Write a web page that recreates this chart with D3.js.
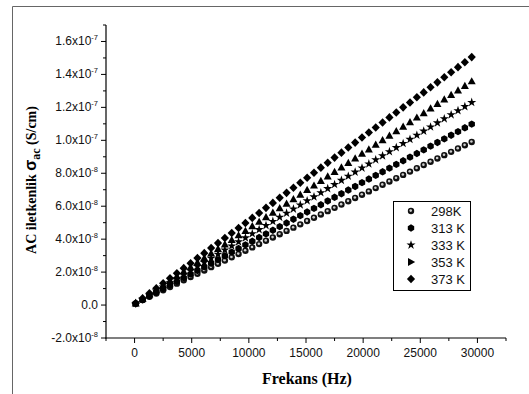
<!DOCTYPE html>
<html><head><meta charset="utf-8">
<script src="https://cdn.jsdelivr.net/npm/d3@7"></script>
<style>body{margin:0;background:#fff}svg{display:block}</style>
</head><body>
<script>
const freq = [100,700,1300,1900,2500,3100,3700,4300,4900,5500,6100,6700,7300,7900,8500,9100,9700,10300,10900,11500,12100,12700,13300,13900,14500,15100,15700,16300,16900,17500,18100,18700,19300,19900,20500,21100,21700,22300,22900,23500,24100,24700,25300,25900,26500,27100,27700,28300,28900,29500];
// values in units of 1e-8 S/cm
const UNIT = 1e-8;
const s298 = [0.10,0.30,0.50,0.70,0.90,1.10,1.30,1.50,1.70,1.90,2.10,2.30,2.50,2.70,2.90,3.10,3.30,3.50,3.70,3.90,4.10,4.30,4.50,4.70,4.90,5.10,5.30,5.50,5.70,5.90,6.10,6.30,6.50,6.70,6.90,7.10,7.30,7.50,7.70,7.90,8.10,8.30,8.50,8.70,8.90,9.10,9.30,9.50,9.70,9.90];
const s313 = [0.10,0.32,0.54,0.77,0.99,1.21,1.43,1.65,1.88,2.10,2.32,2.54,2.76,2.99,3.21,3.43,3.65,3.87,4.10,4.32,4.54,4.76,4.98,5.21,5.43,5.65,5.87,6.09,6.32,6.54,6.76,6.98,7.20,7.43,7.65,7.87,8.09,8.31,8.54,8.76,8.98,9.20,9.42,9.65,9.87,10.09,10.31,10.53,10.76,10.98];
const s333 = [0.10,0.35,0.60,0.85,1.10,1.35,1.59,1.84,2.09,2.34,2.59,2.84,3.09,3.34,3.59,3.84,4.08,4.33,4.58,4.83,5.08,5.33,5.58,5.83,6.08,6.33,6.57,6.82,7.07,7.32,7.57,7.82,8.07,8.32,8.57,8.82,9.06,9.31,9.56,9.81,10.06,10.31,10.56,10.81,11.06,11.31,11.55,11.80,12.05,12.30];
const s353 = [0.10,0.38,0.65,0.93,1.20,1.48,1.75,2.03,2.30,2.58,2.85,3.13,3.40,3.68,3.95,4.23,4.50,4.78,5.05,5.33,5.60,5.88,6.15,6.43,6.70,6.98,7.25,7.53,7.80,8.08,8.35,8.63,8.90,9.18,9.45,9.73,10.00,10.28,10.55,10.83,11.10,11.38,11.65,11.93,12.20,12.48,12.75,13.03,13.30,13.58];
const s373 = [0.10,0.41,0.71,1.02,1.32,1.63,1.93,2.24,2.54,2.85,3.15,3.46,3.76,4.07,4.37,4.68,4.98,5.29,5.59,5.90,6.20,6.51,6.81,7.12,7.42,7.73,8.03,8.34,8.64,8.95,9.25,9.56,9.86,10.17,10.47,10.78,11.08,11.39,11.69,12.00,12.30,12.61,12.91,13.22,13.52,13.83,14.13,14.44,14.74,15.05];
const seriesNames = ["298K","313 K","333 K","353 K","373 K"];
const seriesVals = [s298,s313,s333,s353,s373];
const xTicks = [0,5000,10000,15000,20000,25000,30000];
const yTickVals = [-2e-8,0,2e-8,4e-8,6e-8,8e-8,1e-7,1.2e-7,1.4e-7,1.6e-7];
const yTickMant = ["-2.0","0.0","2.0","4.0","6.0","8.0","1.0","1.2","1.4","1.6"];
const yTickExp = ["-8",null,"-8","-8","-8","-8","-7","-7","-7","-7"];

const W=529,H=394;
const svg=d3.select("body").append("svg").attr("width",W).attr("height",H);
// outer frame
svg.append("path").attr("d","M12.5,394 V6.5 H529").attr("fill","none").attr("stroke","#666").attr("stroke-width",1);

const x=d3.scaleLinear().domain([-2500,32500]).range([106,506]);
const y=d3.scaleLinear().domain([-2e-8,1.7e-7]).range([338,25]);

const ax=svg.append("g").attr("stroke","#000").attr("fill","none");
ax.append("line").attr("x1",106).attr("x2",106).attr("y1",y(1.7e-7)).attr("y2",y(-2e-8)+0.5).attr("stroke-width",1.2);
ax.append("line").attr("x1",x(-2500)-0.5).attr("x2",x(32500)).attr("y1",338).attr("y2",338).attr("stroke-width",1.2);
// x ticks
d3.range(-2500,32501,2500).forEach(v=>{
  const major = v%5000===0;
  ax.append("line").attr("x1",x(v)).attr("x2",x(v)).attr("y1",338).attr("y2",338+(major?5:3)).attr("stroke-width",1);
});
// y ticks
d3.range(-2,18).forEach(i=>{
  const v=i*1e-8; const major = i%2===0;
  ax.append("line").attr("x1",106).attr("x2",106-(major?5:3)).attr("y1",y(v)).attr("y2",y(v)).attr("stroke-width",1);
});
// x tick labels
svg.selectAll(".xl").data(xTicks).enter().append("text")
  .attr("x",d=>x(d)).attr("y",357).attr("text-anchor","middle")
  .attr("font-family","Liberation Sans, Arial, sans-serif").attr("font-size",12).attr("fill","#111")
  .text(d=>d);
// y tick labels
yTickVals.forEach((v,i)=>{
  const t=svg.append("text").attr("x",98).attr("y",y(v)+4).attr("text-anchor","end")
    .attr("font-family","Liberation Sans, Arial, sans-serif").attr("font-size",12).attr("fill","#111");
  if(yTickExp[i]){
    t.append("tspan").text(yTickMant[i]+"x10");
    t.append("tspan").attr("dy",-5).attr("font-size",7.5).text(yTickExp[i]);
  } else {
    t.text(yTickMant[i]);
  }
});
// axis titles
svg.append("text").attr("x",307).attr("y",384).attr("text-anchor","middle")
  .attr("font-family","Liberation Serif, Times New Roman, serif").attr("font-weight","bold").attr("font-size",16)
  .text("Frekans (Hz)");
const yt=svg.append("text").attr("transform","translate(36,180) rotate(-90)").attr("text-anchor","middle")
  .attr("font-family","Liberation Serif, Times New Roman, serif").attr("font-weight","bold").attr("font-size",14);
yt.append("tspan").text("AC iletkenlik ");
yt.append("tspan").attr("font-family","Liberation Sans, Arial, sans-serif").attr("font-size",16).text("σ");
yt.append("tspan").attr("dy",4).attr("font-size",12).text("ac");
yt.append("tspan").attr("dy",-4).text(" (S/cm)");

// marker drawing
function marker(g,type,cx,cy,legend){
  if(type===0){
    g.append("circle").attr("cx",cx).attr("cy",cy).attr("r",3.2).attr("fill","#111");
    g.append("circle").attr("cx",cx-0.3).attr("cy",cy-0.4).attr("r",1.3).attr("fill","#ccc");
  } else if(type===1){
    g.append("path").attr("transform",`translate(${cx},${cy})`)
      .attr("d",d3.line()(d3.range(6).map(k=>{const a=k*Math.PI/3;return [3.7*Math.sin(a),-3.7*Math.cos(a)];}))+"Z").attr("fill","#000");
  } else if(type===2){
    g.append("path").attr("transform",`translate(${cx},${cy})`).attr("d",d3.symbol(d3.symbolStar,26)()).attr("fill","#000");
  } else if(type===3){
    const r = legend? "rotate(90)" : "";
    g.append("path").attr("transform",`translate(${cx},${cy}) ${r}`).attr("d","M0,-4.2L4,3L-4,3Z").attr("fill","#000");
  } else {
    g.append("path").attr("transform",`translate(${cx},${cy})`).attr("d","M0,-4.3L4.1,0L0,4.3L-4.1,0Z").attr("fill","#000");
  }
}
const pg=svg.append("g");
seriesVals.forEach((vals,si)=>{
  const g=pg.append("g");
  vals.forEach((v,i)=>marker(g,si,x(freq[i]),y(v*UNIT),false));
});

// legend
const lg=svg.append("g");
lg.append("rect").attr("x",393.5).attr("y",201.5).attr("width",77).attr("height",89).attr("fill","#fff").attr("stroke","#000").attr("stroke-width",1);
seriesNames.forEach((n,i)=>{
  const cy=211+i*17;
  marker(lg,i,411,cy,true);
  lg.append("text").attr("x",431).attr("y",cy+5).attr("font-family","Liberation Sans, Arial, sans-serif").attr("font-size",13).attr("fill","#111").text(n);
});
</script>
</body></html>
